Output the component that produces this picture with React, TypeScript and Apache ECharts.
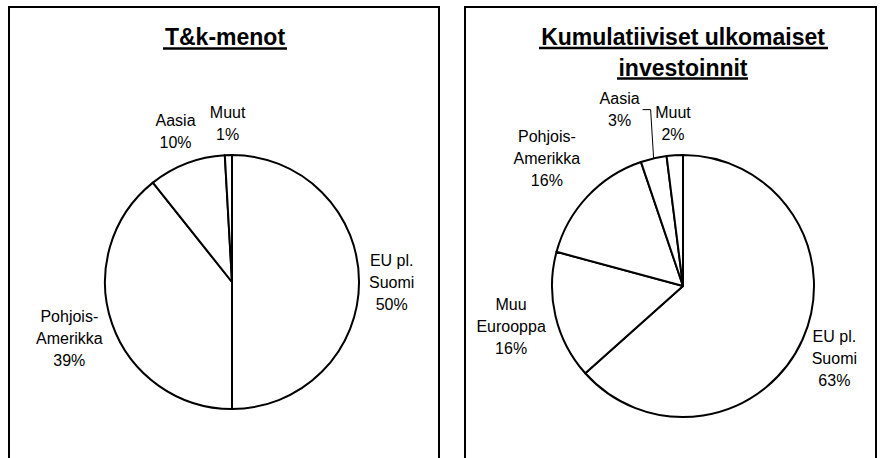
import { useEffect, useRef } from 'react';
import * as echarts from 'echarts';

// ---- data ----
const leftTitle = 'T&k-menot';
const leftCategories = ['EU pl.\nSuomi', 'Pohjois-\nAmerikka', 'Aasia', 'Muut'];
const leftValues = [50, 39.3, 9.8, 0.9];

const rightTitleLines = ['Kumulatiiviset ulkomaiset', 'investoinnit'];
const rightCategories = ['EU pl.\nSuomi', 'Muu\nEurooppa', 'Pohjois-\nAmerikka', 'Aasia', 'Muut'];
const rightValues = [63.4, 15.8, 15.6, 3.2, 2.0];

// ---- layout ----
const FONT = '"Liberation Sans", Arial, sans-serif';
const PIES = [
  { cx: 232, cy: 282, r: 127, values: leftValues },
  { cx: 683, cy: 286, r: 131, values: rightValues },
];
const LABEL_GAP = 10;
const LEADER_LENGTH = 50;
const LEADER_LENGTH2 = 8;

function midDirection(values: number[], idx: number): [number, number] {
  const total = values.reduce((a, b) => a + b, 0);
  let before = 0;
  for (let i = 0; i < idx; i++) before += values[i];
  const frac = (before + values[idx] / 2) / total;
  const ang = frac * 2 * Math.PI;
  return [Math.sin(ang), -Math.cos(ang)];
}

function makeLabelLayout(seriesIdx: number, leader: number[]) {
  return (params: any) => {
    const d = params.dataIndex;
    const p = PIES[seriesIdx];
    const [dx, dy] = midDirection(p.values, d);
    if (leader.indexOf(d) >= 0) {
      const ex = p.cx + p.r * dx;
      const ey = p.cy + p.r * dy;
      const cornerY = p.cy + (p.r + LEADER_LENGTH) * dy;
      const cornerX = ex - 3;
      const endX = cornerX - LEADER_LENGTH2;
      return {
        x: endX - 1,
        y: cornerY,
        align: 'right',
        verticalAlign: 'middle',
        labelLinePoints: [
          [ex, ey],
          [cornerX, cornerY],
          [endX, cornerY],
        ],
      };
    }
    const px = p.cx + (p.r + LABEL_GAP) * dx;
    const py = p.cy + (p.r + LABEL_GAP) * dy;
    const m = Math.max(Math.abs(dx), Math.abs(dy));
    const w = params.labelRect.width / 2;
    const h = params.labelRect.height / 2;
    return { x: px + (w * dx) / m, y: py + (h * dy) / m, align: 'center', verticalAlign: 'middle' };
  };
}

const labelStyle = {
  show: true,
  position: 'outside',
  formatter: '{b}\n{d}%',
  color: '#000',
  fontFamily: FONT,
  fontSize: 16,
  lineHeight: 22,
};

export default function App() {
  const ref = useRef<HTMLDivElement>(null);
  useEffect(() => {
    if (!ref.current) return;
    const chart = echarts.init(ref.current, undefined, { renderer: 'svg' });
    const titleText = (text: string, x: number, y: number) => ({
      type: 'text',
      x,
      y,
      silent: true,
      style: {
        text,
        fill: '#000',
        fontFamily: FONT,
        fontSize: 23,
        fontWeight: 'bold',
        align: 'center',
        verticalAlign: 'middle',
        textAlign: 'center',
        textVerticalAlign: 'middle',
      },
    });
    const uline = (x1: number, x2: number, y: number) => ({
      type: 'line',
      silent: true,
      shape: { x1, y1: y, x2, y2: y },
      style: { stroke: '#000', lineWidth: 2.5 },
    });
    chart.setOption({
      animation: false,
      backgroundColor: '#fff',
      graphic: [
        { type: 'rect', silent: true, shape: { x: 9, y: 7, width: 430, height: 470 }, style: { fill: 'none', stroke: '#000', lineWidth: 2 } },
        { type: 'rect', silent: true, shape: { x: 465, y: 7, width: 411, height: 470 }, style: { fill: 'none', stroke: '#000', lineWidth: 2 } },
        titleText(leftTitle, 225, 37),
        uline(163, 287, 48.5),
        titleText(rightTitleLines[0], 683, 37),
        uline(539, 828, 48),
        titleText(rightTitleLines[1], 683, 67.5),
        uline(617, 748, 78.5),
      ],
      series: [
        {
          type: 'pie',
          center: [PIES[0].cx, PIES[0].cy],
          radius: PIES[0].r,
          startAngle: 90,
          clockwise: true,
          avoidLabelOverlap: false,
          percentPrecision: 0,
          emphasis: { disabled: true },
          itemStyle: { color: '#fff', borderColor: '#000', borderWidth: 2 },
          label: labelStyle,
          labelLine: { show: false },
          labelLayout: makeLabelLayout(0, []),
          data: leftCategories.map((name, i) => ({ name, value: leftValues[i] })),
        },
        {
          type: 'pie',
          center: [PIES[1].cx, PIES[1].cy],
          radius: PIES[1].r,
          startAngle: 90,
          clockwise: true,
          avoidLabelOverlap: false,
          percentPrecision: 0,
          emphasis: { disabled: true },
          itemStyle: { color: '#fff', borderColor: '#000', borderWidth: 2 },
          label: labelStyle,
          labelLine: { show: false },
          labelLayout: makeLabelLayout(1, [3]),
          data: rightCategories.map((name, i) => {
            if (name === 'Aasia') {
              return {
                name,
                value: rightValues[i],
                label: {
                  formatter: '{n|{b}}\n{n|{d}%}',
                  rich: {
                    n: { width: 44, align: 'center', fontFamily: FONT, fontSize: 16, lineHeight: 22, color: '#000' },
                  },
                },
                labelLine: { show: true, length: LEADER_LENGTH, length2: LEADER_LENGTH2, lineStyle: { color: '#000', width: 1 } },
              };
            }
            return { name, value: rightValues[i] };
          }),
        },
      ],
    });
    return () => chart.dispose();
  }, []);
  return (
    <div
      ref={ref}
      style={{ position: 'fixed', left: 0, top: 0, width: 883, height: 458, background: '#fff' }}
    />
  );
}
